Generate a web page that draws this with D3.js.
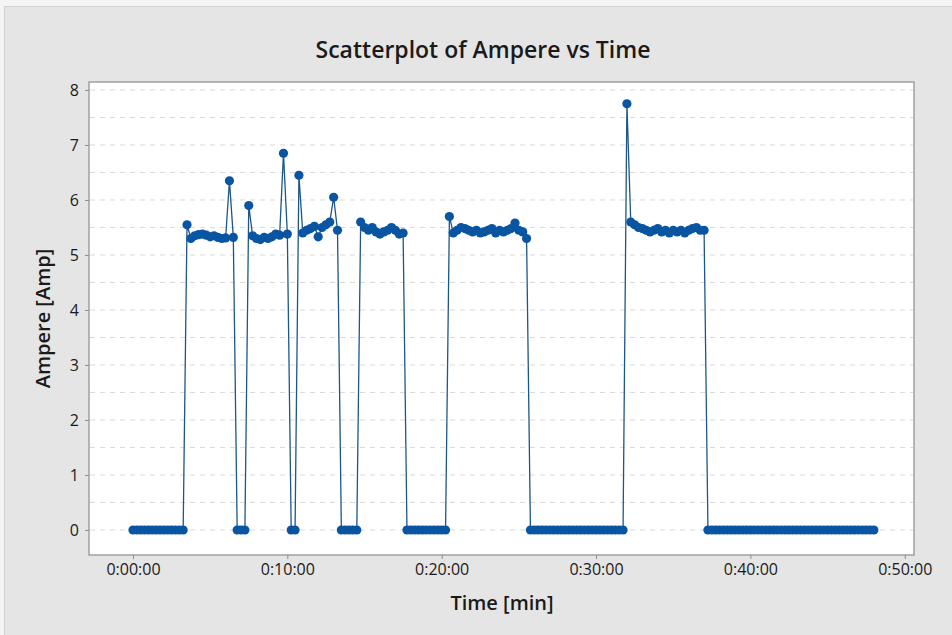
<!DOCTYPE html>
<html>
<head>
<meta charset="utf-8">
<script src="https://cdn.jsdelivr.net/npm/d3@7"></script>
<style>
  body { margin: 0; background: #f4f4f4; }
  text { font-family: "Open Sans", "Noto Sans", sans-serif; fill: #1a1a1a; }
  .axis text { font-size: 16px; }
  .axis path { display: none; }
  .axis line { stroke: #8c8c8c; }
  .grid line { stroke: #d9d9d9; stroke-dasharray: 5,5; }
</style>
</head>
<body>
<div id="chart"></div>
<script>
// sampled every 15 s (0.25 min)
const sampleMin = 0.25;
const ampere = [
  0,0,0,0,0,0,0,0,0,0,0,0,0,0,
  5.55,5.30,5.35,5.37,5.38,5.36,5.33,5.35,5.32,5.30,5.31,6.35,5.32,
  0,0,0,
  5.90,5.35,5.30,5.28,5.32,5.30,5.33,5.38,5.36,6.85,5.38,
  0,0,
  6.45,5.40,5.45,5.48,5.52,5.33,5.50,5.55,5.60,6.05,5.45,
  0,0,0,0,0,
  5.60,5.50,5.45,5.50,5.42,5.38,5.42,5.45,5.50,5.45,5.38,5.40,
  0,0,0,0,0,0,0,0,0,0,0,
  5.70,5.40,5.45,5.50,5.48,5.45,5.42,5.45,5.40,5.42,5.45,5.48,5.40,5.45,5.42,5.45,5.48,5.58,5.45,5.42,5.30,
  0,0,0,0,0,0,0,0,0,0,0,0,0,0,0,0,0,0,0,0,0,0,0,0,0,
  7.75,5.60,5.55,5.50,5.48,5.45,5.42,5.45,5.48,5.42,5.45,5.40,5.45,5.42,5.45,5.40,5.45,5.48,5.50,5.45,5.45,
  0,0,0,0,0,0,0,0,0,0,0,0,0,0,0,0,0,0,0,0,0,0,0,0,0,0,0,0,0,0,0,0,0,0,0,0,0,0,0,0,0,0,0,0
];
const xTicks = [0, 10, 20, 30, 40, 50];
const yTicks = [0, 1, 2, 3, 4, 5, 6, 7, 8];
const yGrid = [0.5, 1.5, 2.5, 3.5, 4.5, 5.5, 6.5, 7.5];

const data = ampere.map((a, i) => ({ t: i * sampleMin, a: a }));

const width = 952, height = 635,
  margin = { top: 82, bottom: 80, left: 89, right: 38 };

const xScale = d3.scaleLinear()
  .domain([-2.85, 50.6])
  .range([margin.left, width - margin.right]);
const yScale = d3.scaleLinear()
  .domain([-0.455, 8.145])
  .range([height - margin.bottom, margin.top]);

const fmtTime = m => {
  const h = Math.floor(m / 60), mm = Math.floor(m % 60), ss = Math.round((m * 60) % 60);
  return h + ":" + String(mm).padStart(2, "0") + ":" + String(ss).padStart(2, "0");
};

const svg = d3.select("#chart").append("svg")
  .attr("width", width).attr("height", height);

// grey panel
svg.append("rect")
  .attr("x", 4.5).attr("y", 6.5)
  .attr("width", width - 4).attr("height", height - 6)
  .attr("fill", "#e5e5e5").attr("stroke", "#d2d2d2");

// plot area
svg.append("rect")
  .attr("x", margin.left).attr("y", margin.top)
  .attr("width", width - margin.right - margin.left)
  .attr("height", height - margin.bottom - margin.top)
  .attr("fill", "#fff").attr("stroke", "#a0a0a0").attr("stroke-width", 1.5);

// gridlines
svg.append("g").attr("class", "grid")
  .selectAll("line")
  .data(yTicks.concat(yGrid))
  .join("line")
  .attr("x1", margin.left + 1).attr("x2", width - margin.right - 1)
  .attr("y1", d => yScale(d)).attr("y2", d => yScale(d));

// axes
svg.append("g").attr("class", "axis")
  .attr("transform", `translate(${margin.left},0)`)
  .call(d3.axisLeft(yScale).tickValues(yTicks).tickSize(4).tickPadding(6));
svg.append("g").attr("class", "axis")
  .attr("transform", `translate(0,${height - margin.bottom})`)
  .call(d3.axisBottom(xScale).tickValues(xTicks).tickFormat(fmtTime).tickSize(4).tickPadding(5));

// connect line
svg.append("path")
  .datum(data)
  .attr("fill", "none")
  .attr("stroke", "#1d5688")
  .attr("stroke-width", 1.3)
  .attr("d", d3.line().x(d => xScale(d.t)).y(d => yScale(d.a)));

// points
svg.append("g")
  .selectAll("circle")
  .data(data)
  .join("circle")
  .attr("cx", d => xScale(d.t))
  .attr("cy", d => yScale(d.a))
  .attr("r", 4.6)
  .attr("fill", "#0a55a2");

// titles
svg.append("text")
  .attr("x", 483).attr("y", 58)
  .attr("text-anchor", "middle")
  .attr("font-size", 23).attr("font-weight", 600)
  .text("Scatterplot of Ampere vs Time");
svg.append("text")
  .attr("x", 502).attr("y", 610)
  .attr("text-anchor", "middle")
  .attr("font-size", 20).attr("font-weight", 600)
  .text("Time [min]");
svg.append("text")
  .attr("transform", `translate(50,${(margin.top + height - margin.bottom) / 2}) rotate(-90)`)
  .attr("text-anchor", "middle")
  .attr("font-size", 20).attr("font-weight", 600)
  .text("Ampere [Amp]");
</script>
</body>
</html>
